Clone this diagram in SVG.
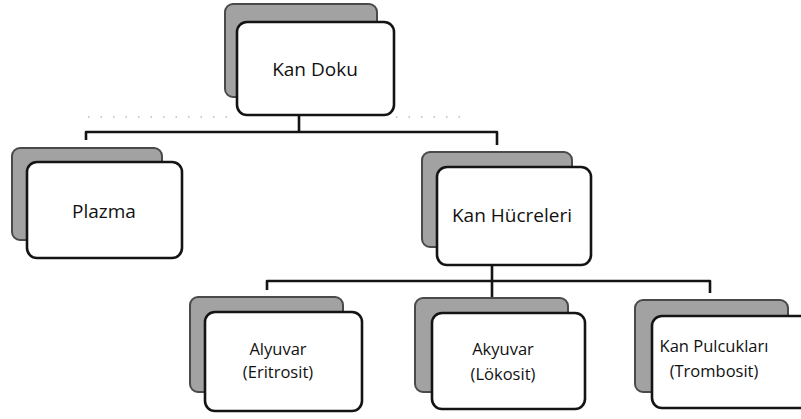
<svg xmlns="http://www.w3.org/2000/svg" width="801" height="419" viewBox="0 0 801 419">
<defs>
<style>
.sh{fill:#a2a2a2;stroke:#4a4a4a;stroke-width:2}
.bx{fill:#ffffff;stroke:#141414;stroke-width:2.6}
.t1{font-family:"Open Sans","Noto Sans",sans-serif;font-size:19px;fill:#111;text-anchor:middle}
.t2{font-family:"Open Sans","Noto Sans",sans-serif;font-size:16.5px;fill:#111;text-anchor:middle}
.ln{fill:none;stroke:#141414;stroke-width:2.6;stroke-linejoin:round}
.dot{fill:none;stroke:#9a9a9a;stroke-width:1.2;stroke-dasharray:1.5 11}
</style>
</defs>
<rect width="801" height="419" fill="#ffffff"/>
<path class="dot" d="M88 117 H232 M396 117 H462"/>
<g id="connectors">
<path class="ln" d="M299 115 V132 M86 140 V132 H497 V145"/>
<path class="ln" d="M492 265 V298 M267 290 V281 H710 V293"/>
</g>
<g id="kan-doku">
<rect class="sh" x="225" y="4" width="152" height="93" rx="8"/>
<rect class="bx" x="237" y="22" width="157" height="93" rx="10"/>
<text class="t1" x="315" y="76">Kan Doku</text>
</g>
<g id="plazma">
<rect class="sh" x="12" y="148" width="150" height="92" rx="8"/>
<rect class="bx" x="27" y="162" width="155" height="96" rx="10"/>
<text class="t1" x="104" y="218">Plazma</text>
</g>
<g id="kan-hucreleri">
<rect class="sh" x="422" y="152" width="150" height="95" rx="8"/>
<rect class="bx" x="437" y="167" width="154" height="98" rx="10"/>
<text class="t1" x="512" y="222">Kan Hücreleri</text>
</g>
<g id="alyuvar">
<rect class="sh" x="190" y="297" width="153" height="95" rx="8"/>
<rect class="bx" x="205" y="312" width="157" height="99" rx="10"/>
<text class="t2" x="278" y="355">Alyuvar</text>
<text class="t2" x="278" y="378">(Eritrosit)</text>
</g>
<g id="akyuvar">
<rect class="sh" x="415" y="298" width="153" height="94" rx="8"/>
<rect class="bx" x="432" y="313" width="153" height="96" rx="10"/>
<text class="t2" x="503" y="355">Akyuvar</text>
<text class="t2" x="503" y="380">(Lökosit)</text>
</g>
<g id="kan-pulcuklari">
<rect class="sh" x="635" y="300" width="153" height="92" rx="8"/>
<rect class="bx" x="652" y="316" width="160" height="92" rx="10"/>
<text class="t2" x="714" y="352">Kan Pulcukları</text>
<text class="t2" x="714" y="377">(Trombosit)</text>
</g>
</svg>
